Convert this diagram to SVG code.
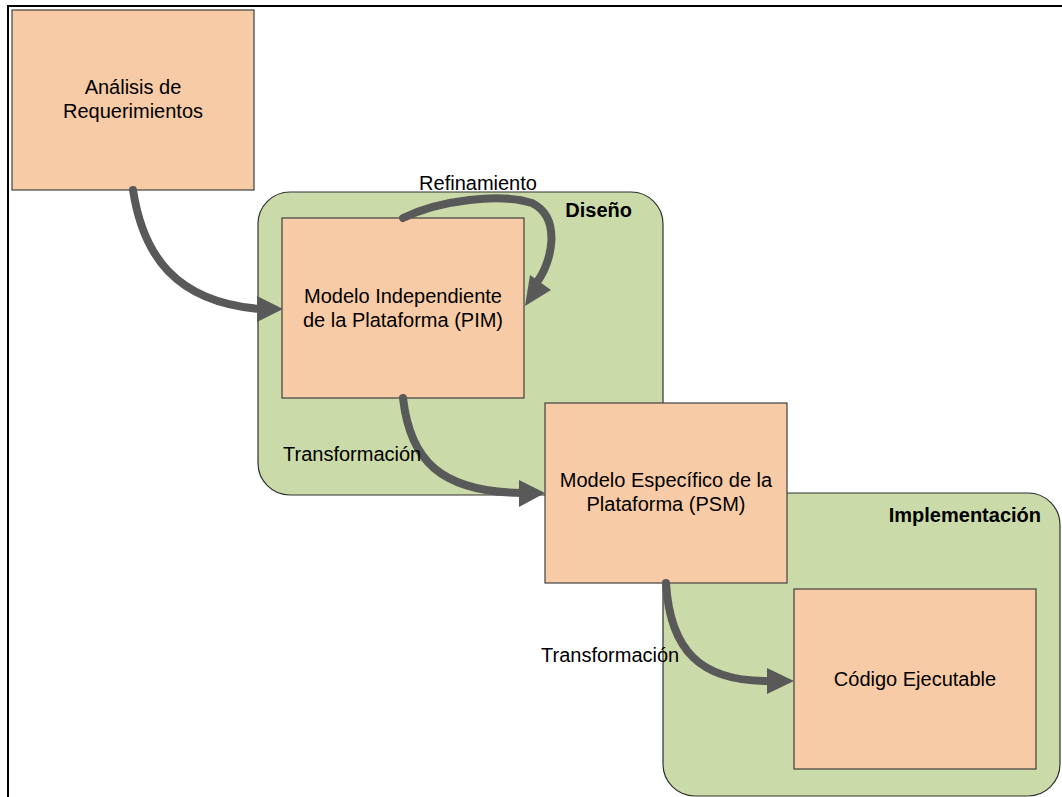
<svg xmlns="http://www.w3.org/2000/svg" width="1062" height="797" viewBox="0 0 1062 797">
<defs>
<style>
.box{fill:#F8CBA7;stroke:#404040;stroke-width:1.2}
.grp{fill:#CADAA8;stroke:#303030;stroke-width:1.2}
.t{font-family:"Liberation Sans",Arial,sans-serif;font-size:20px;fill:#000}
.b{font-family:"Liberation Sans",Arial,sans-serif;font-size:20px;font-weight:bold;fill:#000}
.c{fill:none;stroke:#595959;stroke-width:8;stroke-linecap:round}
.h{fill:#595959}
</style>
</defs>
<rect width="1062" height="797" fill="#fff"/>
<path d="M8,797 V6 H1062" fill="none" stroke="#000" stroke-width="2"/>
<g id="diseno">
<rect class="grp" x="258" y="192" width="405" height="303" rx="32"/>
<text class="b" x="632" y="217" text-anchor="end">Diseño</text>
</g>
<g id="implementacion">
<rect class="grp" x="663" y="493" width="397" height="303" rx="32"/>
<text class="b" x="1041" y="522" text-anchor="end">Implementación</text>
</g>
<g id="analisis">
<rect class="box" x="12" y="10" width="242" height="180"/>
<text class="t" x="133" y="94" text-anchor="middle">Análisis de</text>
<text class="t" x="133" y="118" text-anchor="middle">Requerimientos</text>
</g>
<g id="pim">
<rect class="box" x="282" y="218" width="242" height="180"/>
<text class="t" x="403" y="303" text-anchor="middle">Modelo Independiente</text>
<text class="t" x="403" y="327" text-anchor="middle">de la Plataforma (PIM)</text>
</g>
<g id="psm">
<rect class="box" x="545" y="403" width="242" height="180"/>
<text class="t" x="666" y="487" text-anchor="middle">Modelo Específico de la</text>
<text class="t" x="666" y="511" text-anchor="middle">Plataforma (PSM)</text>
</g>
<g id="codigo">
<rect class="box" x="794" y="589" width="242" height="180"/>
<text class="t" x="915" y="686" text-anchor="middle">Código Ejecutable</text>
</g>
<g id="connectors">
<path class="c" d="M133,190 C143,255 175,302 260,309"/>
<polygon class="h" points="283,309 257,296 257,322"/>
<path class="c" d="M403,218 C440,200 500,193 532,203 C562,218 552,262 537,282"/>
<polygon class="h" points="525,306 530,275 551,290"/>
<path class="c" d="M403,398 C410,460 440,492 522,493"/>
<polygon class="h" points="545,493 519,480 519,507"/>
<path class="c" d="M666,583 C670,650 700,682 770,681"/>
<polygon class="h" points="794,681 767,668 767,694"/>
<text class="t" x="478" y="190" text-anchor="middle">Refinamiento</text>
<text class="t" x="283" y="461">Transformación</text>
<text class="t" x="541" y="662">Transformación</text>
</g>
</svg>
